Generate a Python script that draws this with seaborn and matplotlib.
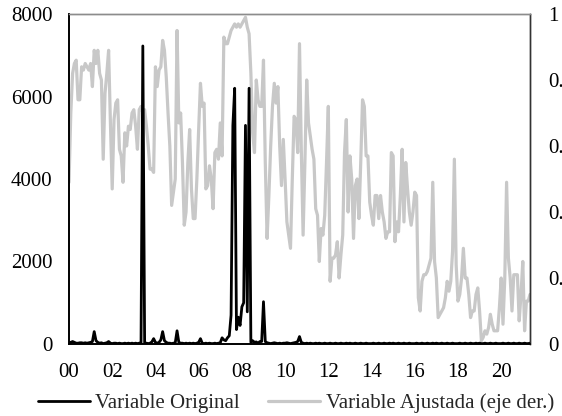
#!/usr/bin/env python3
"""Original vs adjusted variable, monthly 2000-2021, with a secondary axis."""

import matplotlib

matplotlib.use("Agg")
import matplotlib.pyplot as plt
import numpy as np
import pandas as pd
import seaborn as sns

# monthly values, Jan 2000 .. May 2021 (one row per year)
ORIGINAL = [
    30, 40, 60, 40, 20, 20, 30, 30, 20, 30, 20, 30,
    40, 60, 300, 80, 40, 20, 30, 10, 20, 30, 60, 20,
    10, 20, 20, 10, 20, 10, 10, 20, 10, 20, 10, 20,
    10, 20, 10, 20, 20, 7225, 30, 20, 10, 20, 50, 130,
    40, 20, 40, 100, 300, 80, 40, 20, 20, 10, 20, 30,
    320, 40, 20, 20, 10, 20, 10, 20, 10, 20, 10, 20,
    40, 130, 20, 10, 20, 10, 20, 10, 10, 20, 10, 20,
    30, 150, 100, 80, 150, 200, 700, 5300, 6200, 350, 650, 450,
    900, 1000, 5300, 780, 6200, 40, 80, 40, 50, 20, 60, 60,
    1025, 60, 30, 20, 10, 20, 30, 20, 10, 20, 10, 20,
    20, 30, 20, 10, 20, 30, 40, 60, 180, 40, 20, 10,
    20, 10, 20, 10, 10, 20, 10, 20, 10, 10, 20, 10,
    10, 20, 10, 10, 20, 10, 10, 20, 10, 10, 20, 10,
    20, 10, 10, 20, 10, 10, 20, 10, 10, 20, 10, 10,
    10, 20, 10, 10, 20, 10, 10, 20, 10, 10, 20, 10,
    20, 10, 10, 20, 10, 10, 20, 10, 10, 20, 10, 10,
    10, 20, 10, 10, 20, 10, 10, 20, 10, 10, 20, 10,
    20, 10, 10, 20, 10, 10, 20, 10, 10, 20, 10, 10,
    10, 20, 10, 10, 20, 10, 10, 20, 10, 10, 20, 10,
    20, 10, 10, 20, 10, 10, 20, 10, 10, 20, 10, 10,
    10, 20, 10, 10, 20, 10, 10, 20, 10, 10, 20, 10,
    10, 20, 10, 10, 20,
]
ADJUSTED = [
    0.49, 0.70, 0.82, 0.85, 0.86, 0.74, 0.74, 0.84, 0.83, 0.85, 0.84, 0.83,
    0.85, 0.78, 0.89, 0.85, 0.89, 0.82, 0.80, 0.56, 0.76, 0.82, 0.89, 0.67,
    0.47, 0.68, 0.73, 0.74, 0.59, 0.57, 0.49, 0.64, 0.60, 0.66, 0.65, 0.70,
    0.71, 0.66, 0.59, 0.71, 0.72, 0.70, 0.71, 0.66, 0.60, 0.53, 0.53, 0.52,
    0.84, 0.78, 0.83, 0.84, 0.92, 0.89, 0.81, 0.70, 0.60, 0.42, 0.46, 0.50,
    0.95, 0.67, 0.70, 0.55, 0.36, 0.40, 0.55, 0.65, 0.47, 0.38, 0.38, 0.50,
    0.65, 0.79, 0.72, 0.73, 0.47, 0.48, 0.54, 0.50, 0.41, 0.58, 0.59, 0.56,
    0.67, 0.57, 0.93, 0.91, 0.91, 0.93, 0.95, 0.96, 0.97, 0.96, 0.97, 0.96,
    0.97, 0.98, 0.99, 0.96, 0.94, 0.82, 0.64, 0.58, 0.80, 0.74, 0.72, 0.72,
    0.86, 0.55, 0.32, 0.45, 0.60, 0.72, 0.79, 0.73, 0.78, 0.60, 0.48, 0.62,
    0.50, 0.37, 0.33, 0.29, 0.50, 0.69, 0.68, 0.58, 0.91, 0.59, 0.33, 0.55,
    0.80, 0.67, 0.63, 0.59, 0.56, 0.41, 0.39, 0.25, 0.35, 0.33, 0.39, 0.55,
    0.72, 0.19, 0.26, 0.26, 0.27, 0.31, 0.20, 0.27, 0.33, 0.58, 0.68, 0.40,
    0.57, 0.50, 0.32, 0.48, 0.50, 0.38, 0.55, 0.74, 0.72, 0.57, 0.57, 0.43,
    0.39, 0.36, 0.45, 0.45, 0.38, 0.45, 0.40, 0.37, 0.32, 0.34, 0.34, 0.58,
    0.57, 0.31, 0.37, 0.34, 0.45, 0.59, 0.37, 0.55, 0.47, 0.40, 0.36, 0.40,
    0.46, 0.45, 0.14, 0.10, 0.19, 0.21, 0.21, 0.22, 0.24, 0.26, 0.49, 0.25,
    0.20, 0.08, 0.09, 0.10, 0.11, 0.14, 0.19, 0.16, 0.19, 0.28, 0.56, 0.24,
    0.13, 0.15, 0.20, 0.29, 0.20, 0.20, 0.15, 0.08, 0.10, 0.10, 0.15, 0.17,
    0.10, 0.01, 0.02, 0.04, 0.03, 0.05, 0.09, 0.06, 0.04, 0.04, 0.04, 0.11,
    0.20, 0.06, 0.20, 0.49, 0.26, 0.20, 0.10, 0.21, 0.21, 0.21, 0.07, 0.15,
    0.25, 0.04, 0.13, 0.13, 0.15,
]
X_TICK_LABELS = ["00", "02", "04", "06", "08", "10", "12", "14", "16", "18", "20"]
LEFT_TICKS = [0, 2000, 4000, 6000, 8000]
RIGHT_TICKS = [0, 0.2, 0.4, 0.6, 0.8, 1]
RIGHT_TICK_LABELS = ["0", "0.2", "0.4", "0.6", "0.8", "1"]

FONT_SIZE = 15


def main() -> None:
    sns.set_theme(style="white")
    plt.rcParams["font.family"] = ["Liberation Serif", "DejaVu Serif"]
    plt.rcParams["font.size"] = FONT_SIZE

    df = pd.DataFrame({"month": np.arange(len(ORIGINAL)), "original": ORIGINAL, "adjusted": ADJUSTED})

    fig = plt.figure(figsize=(5.62, 4.16), dpi=100)
    ax = fig.add_axes([69 / 562, 1 - 344 / 416, (530 - 69) / 562, (344 - 14) / 416])
    ax2 = ax.twinx()

    sns.lineplot(data=df, x="month", y="adjusted", ax=ax2, color="#c8c8c8", lw=2.3,
                 label="Variable Ajustada (eje der.)", legend=False)
    sns.lineplot(data=df, x="month", y="original", ax=ax, color="black", lw=2.0,
                 label="Variable Original", legend=False)
    # keep the black series above the grey one
    ax.set_zorder(ax2.get_zorder() + 1)
    ax.patch.set_visible(False)

    ax.set_xlim(0, 256)
    ax.set_ylim(0, 8000)
    ax2.set_ylim(0, 1)
    ax.set_xticks(np.arange(0, 241, 24))
    ax.set_xticklabels(X_TICK_LABELS)
    ax.set_yticks(LEFT_TICKS)
    ax.set_yticklabels([str(t) for t in LEFT_TICKS])
    ax2.set_yticks(RIGHT_TICKS)
    ax2.set_yticklabels(RIGHT_TICK_LABELS)
    ax.set_xlabel("")
    ax.set_ylabel("")
    ax2.set_ylabel("")

    ax.tick_params(axis="x", length=0, pad=14, labelsize=FONT_SIZE, colors="black")
    ax.tick_params(axis="y", length=0, pad=12, labelsize=FONT_SIZE, colors="black")
    ax2.tick_params(axis="y", length=0, pad=13, labelsize=FONT_SIZE, colors="black")

    for spine_ax in (ax, ax2):
        spine_ax.spines["left"].set_color("black")
        spine_ax.spines["bottom"].set_color("black")
        spine_ax.spines["right"].set_color("#333333")
        spine_ax.spines["top"].set_color("#8c8c8c")
        spine_ax.spines["left"].set_linewidth(1.2)
        spine_ax.spines["bottom"].set_linewidth(1.2)
        spine_ax.spines["right"].set_linewidth(1.0)
        spine_ax.spines["top"].set_linewidth(1.0)

    handles = [ax.get_lines()[0], ax2.get_lines()[0]]
    fig.legend(handles, [h.get_label() for h in handles], loc="center",
               bbox_to_anchor=(296 / 562, 1 - 403 / 416), ncol=2, frameon=False,
               handlelength=2.5, handletextpad=0.25, columnspacing=1.35, fontsize=FONT_SIZE,
               borderpad=0.1)

    fig.savefig("out.png", dpi=100)
    plt.close(fig)


if __name__ == "__main__":
    main()
